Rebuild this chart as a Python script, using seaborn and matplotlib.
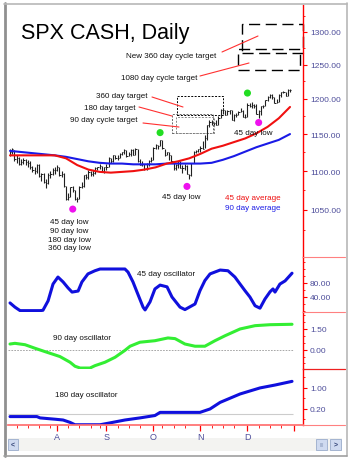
import matplotlib
matplotlib.use('Agg')
import numpy as np
import pandas as pd
import matplotlib.pyplot as plt
import seaborn as sns
from matplotlib.patches import Rectangle
from matplotlib.ticker import FixedLocator, NullFormatter

# --- data --------------------------------------------------------------
# bar index of month starts (Aug .. Jan)
month_idx = [21, 43, 64, 85, 106, 127]
month_lab = ['A', 'S', 'O', 'N', 'D', '']

high = [1129, 1131, 1128, 1121, 1119, 1116, 1117, 1116, 1115, 1114, 1107, 1106, 1110, 1110, 1098, 1097, 1090, 1097, 1100, 1104, 1106,
        1108, 1106, 1100, 1098, 1080, 1071, 1079, 1080, 1075, 1067, 1080, 1086, 1095, 1096, 1101, 1100, 1101, 1106, 1106, 1109, 1107, 1105,
        1109, 1119, 1118, 1122, 1121, 1121, 1124, 1126, 1129, 1128, 1126, 1129, 1129, 1131, 1129, 1116, 1114, 1110, 1111, 1115, 1119,
        1132, 1136, 1135, 1142, 1142, 1130, 1126, 1125, 1122, 1114, 1109, 1114, 1114, 1108, 1109, 1108, 1096, 1111, 1127, 1128, 1130,
        1134, 1140, 1149, 1162, 1170, 1169, 1166, 1169, 1175, 1185, 1187, 1184, 1183, 1184, 1184, 1178, 1179, 1182, 1186, 1183, 1178,
        1193, 1194, 1195, 1192, 1192, 1183, 1190, 1191, 1198, 1204, 1206, 1206, 1203, 1199, 1206, 1210, 1211, 1210, 1214, 1214]
low = [1120, 1123, 1114, 1111, 1108, 1108, 1110, 1108, 1106, 1103, 1099, 1096, 1098, 1092, 1087, 1084, 1078, 1083, 1091, 1095, 1096,
       1100, 1094, 1092, 1079, 1062, 1062, 1066, 1073, 1063, 1060, 1064, 1078, 1079, 1089, 1089, 1094, 1093, 1096, 1102, 1103, 1099, 1097,
       1102, 1105, 1111, 1112, 1116, 1115, 1117, 1122, 1123, 1119, 1120, 1120, 1121, 1122, 1112, 1108, 1107, 1101, 1101, 1107, 1112,
       1115, 1130, 1130, 1133, 1130, 1120, 1121, 1115, 1112, 1102, 1102, 1104, 1104, 1098, 1101, 1096, 1090, 1094, 1111, 1124, 1125,
       1126, 1130, 1131, 1142, 1160, 1162, 1162, 1162, 1162, 1172, 1178, 1176, 1176, 1178, 1170, 1168, 1174, 1177, 1181, 1174, 1173,
       1174, 1188, 1186, 1187, 1178, 1173, 1176, 1186, 1189, 1196, 1201, 1199, 1194, 1193, 1195, 1203, 1208, 1204, 1204, 1209]
close = [1125, 1129, 1116, 1118, 1110, 1112, 1115, 1112, 1111, 1106, 1101, 1100, 1108, 1093, 1096, 1086, 1084, 1095, 1096, 1101, 1102,
         1106, 1095, 1096, 1080, 1064, 1066, 1079, 1075, 1064, 1064, 1079, 1081, 1095, 1092, 1099, 1096, 1097, 1104, 1105, 1107, 1100, 1105,
         1106, 1118, 1113, 1121, 1117, 1118, 1123, 1125, 1128, 1120, 1123, 1128, 1122, 1129, 1113, 1108, 1110, 1103, 1110, 1114, 1115,
         1131, 1135, 1134, 1142, 1131, 1122, 1125, 1121, 1114, 1104, 1108, 1114, 1104, 1104, 1107, 1096, 1095, 1111, 1126, 1127, 1130,
         1131, 1130, 1144, 1162, 1167, 1166, 1165, 1162, 1173, 1184, 1184, 1176, 1182, 1183, 1170, 1177, 1177, 1181, 1182, 1174, 1174,
         1191, 1190, 1191, 1190, 1178, 1182, 1189, 1189, 1198, 1203, 1205, 1203, 1194, 1195, 1205, 1209, 1210, 1204, 1213, 1213]

ma_idx = [0, 10, 20, 25, 30, 35, 40, 45, 50, 55, 60, 65, 70, 75, 80, 85, 90, 95, 100, 105, 110, 115, 120, 125]
ma45 = [1121, 1121, 1121, 1117, 1108, 1102, 1099, 1098, 1099, 1100, 1102, 1105, 1110, 1113, 1117, 1123,
        1130, 1134, 1139, 1144, 1151, 1160, 1172, 1188]
ma90 = [1127, 1124, 1121, 1119, 1116, 1113, 1111, 1110, 1110, 1109, 1109, 1109, 1110, 1110, 1110, 1110,
        1111, 1115, 1120, 1126, 1132, 1137, 1142, 1150]

osc45_idx = [0, 2.2, 4.5, 13.4, 14.7, 17, 19.2, 21.4, 23.7, 25.9, 27.7, 30.4, 32.1, 34.8, 37.9, 40.2, 51.3, 52.7,
             54.9, 56.7, 59.4, 60.3, 62.5, 64.7, 67, 70.1, 72.3, 75.9, 78.1, 82.6, 84.8, 87, 89.3, 93.8, 97.3,
             100.4, 102.7, 104.9, 107.1, 109.4, 111.6, 113.8, 116.1, 117.4, 118.3, 120.5, 122.8, 125.9]
osc45 = [23, 11, 1, 1, 2, 29, 77, 97, 83, 66, 54, 57, 83, 106, 115, 120, 120, 111,
         83, 54, 11, 3, 26, 63, 74, 69, 40, 11, 4, 20, 58, 87, 106, 117, 115,
         97, 77, 58, 40, 15, 8, 34, 55, 63, 54, 77, 86, 108]

osc90_idx = [0, 2.2, 6.7, 11.2, 15.6, 20.1, 22.3, 26.8, 29, 31.3, 35.7, 37.9, 42.4, 46.9, 51.3, 53.6, 58,
             64.7, 70.5, 73.7, 78.1, 82.6, 87, 91.5, 96, 102.7, 109.4, 116.1, 125.9]
osc90 = [0.41, 0.46, 0.36, 0.10, -0.14, -0.38, -0.5, -0.91, -1.2, -1.33, -1.33, -1.16, -0.91, -0.55, -0.05, 0.25, 0.54,
         0.65, 0.85, 0.8, 0.41, 0.25, 0.25, 0.65, 1.01, 1.5, 1.74, 1.81, 1.84]

osc180_idx = [0, 12, 13.4, 20.1, 23.7, 26.8, 29, 40.2, 44.6, 51.3, 58, 64.7, 67, 84.8, 89.3, 93.8, 102.7, 111.6, 118.3, 125.9]
osc180 = [-0.09, -0.09, -0.14, -0.19, -0.22, -0.31, -0.40, -0.40, -0.33, -0.22, -0.14, -0.05, 0.07, 0.07, 0.2, 0.45,
          0.77, 1.0, 1.11, 1.25]

peak_idx = [67, 106]
peak_px = [1152, 1208]
trough_idx = [28, 79, 111]
trough_px = [1051, 1080, 1166]

# price target boxes: (start idx, end idx, low, high)
targets_big = [(103.6, 130.8, 1268, 1312), (101.8, 129.5, 1242, 1274)]
targets_small = [(74.6, 95.1, 1177, 1204), (72.3, 90.6, 1152, 1178), (74.0, 91.0, 1152, 1174)]

# -----------------------------------------------------------------------
sns.set_theme(style='white')
plt.rcParams['font.family'] = ['Liberation Sans', 'DejaVu Sans']

W, H = 352, 464
fig = plt.figure(figsize=(W / 100, H / 100), dpi=100)
fig.patch.set_facecolor('white')

bg = fig.add_axes([0, 0, 1, 1], zorder=0)
bg.set_xlim(0, W); bg.set_ylim(H, 0); bg.axis('off')
fg = fig.add_axes([0, 0, 1, 1], zorder=10)
fg.set_xlim(0, W); fg.set_ylim(H, 0); fg.axis('off')
fg.patch.set_alpha(0)

X0, X1 = 8, 303
XLIM = (-0.9, 130.8)
TICKC = '#4d4d9a'


def panel(top, bottom):
    ax = fig.add_axes([X0 / W, (H - bottom) / H, (X1 - X0) / W, (bottom - top) / H], zorder=5)
    ax.patch.set_visible(False)
    for s in ['top', 'left', 'bottom']:
        ax.spines[s].set_visible(False)
    ax.spines['right'].set_color('red')
    ax.spines['right'].set_linewidth(1)
    ax.set_xlim(*XLIM)
    ax.yaxis.tick_right()
    ax.tick_params(axis='y', which='both', color='red', labelcolor=TICKC, labelsize=6,
                   direction='out', pad=2, right=True, left=False)
    ax.tick_params(axis='y', which='major', length=3, width=0.8)
    ax.tick_params(axis='y', which='minor', length=1.5, width=0.6)
    ax.tick_params(axis='x', which='both', bottom=False, labelbottom=False)
    ax.set_xlabel(''); ax.set_ylabel('')
    ax.grid(False)
    return ax


# price panel
ax = panel(6, 258)
ax.set_yscale('log')
ax.set_ylim(992.3, 1342.6)
ax.vlines(range(len(high)), low, high, color='#202020', lw=0.8)
ax.hlines(close, np.arange(len(close)), np.arange(len(close)) + 0.55, color='#202020', lw=0.7)
ma = pd.DataFrame({'i': ma_idx, 'ma45': ma45, 'ma90': ma90})
sns.lineplot(data=ma, x='i', y='ma90', color='#1a1ae6', lw=1.5, ax=ax)
sns.lineplot(data=ma, x='i', y='ma45', color='#f01010', lw=1.5, ax=ax)
sns.scatterplot(x=peak_idx, y=peak_px, color='#22dd22', s=26, edgecolor='none', ax=ax)
sns.scatterplot(x=trough_idx, y=trough_px, color='#ee11ee', s=26, edgecolor='none', ax=ax)
for (a, b, lo, hi), ls in zip(targets_big, [(0, (8, 4)), (0, (8, 4))]):
    ax.add_patch(Rectangle((a, lo), b - a, hi - lo, fill=False, ec='black', lw=1.0, ls=ls, clip_on=False))
for (a, b, lo, hi), c in zip(targets_small, ['black', '#666666', '#888888']):
    ax.add_patch(Rectangle((a, lo), b - a, hi - lo, fill=False, ec=c, lw=0.7, ls=(0, (2, 1.5))))
pt = [1050, 1100, 1150, 1200, 1250, 1300]
ax.yaxis.set_major_locator(FixedLocator(pt))
ax.yaxis.set_minor_locator(FixedLocator([1025, 1075, 1125, 1175, 1225, 1275, 1325]))
ax.yaxis.set_minor_formatter(NullFormatter())
ax.set_yticklabels([f'{v:.2f}' for v in pt])
ax.set_xlabel(''); ax.set_ylabel('')

# 45 day oscillator
a1 = panel(258, 313)
sns.lineplot(x=osc45_idx, y=osc45, color='#1010dd', lw=2.2, ax=a1)
a1.set_ylim(-2.9, 154.3)
a1.yaxis.set_major_locator(FixedLocator([40, 80]))
a1.yaxis.set_minor_locator(FixedLocator([0, 20, 60, 100, 120, 140]))
a1.yaxis.set_minor_formatter(NullFormatter())
a1.set_yticklabels(['40.00', '80.00'])

# 90 day oscillator
a2 = panel(313, 370)
a2.hlines(0, XLIM[0], 126.3, color='#999999', lw=0.6, ls=(0, (2, 1.5)))
sns.lineplot(x=osc90_idx, y=osc90, color='#33ee33', lw=2.2, ax=a2)
a2.set_ylim(-1.40, 2.73)
a2.yaxis.set_major_locator(FixedLocator([0, 1.5]))
a2.yaxis.set_minor_locator(FixedLocator([-1.0, -0.5, 0.5, 1.0, 2.0, 2.5]))
a2.yaxis.set_minor_formatter(NullFormatter())
a2.set_yticklabels(['0.00', '1.50'])

# 180 day oscillator
a3 = panel(370, 426)
a3.hlines(0.01, XLIM[0], 126.3, color='#cccccc', lw=0.8)
sns.lineplot(x=osc180_idx, y=osc180, color='#1010dd', lw=2.2, ax=a3)
a3.set_ylim(-0.41, 1.72)
a3.yaxis.set_major_locator(FixedLocator([0.2, 1.0]))
a3.yaxis.set_minor_locator(FixedLocator([-0.2, 0.6, 1.4]))
a3.yaxis.set_minor_formatter(NullFormatter())
a3.set_yticklabels(['0.20', '1.00'])
a3.spines['bottom'].set_visible(True)
a3.spines['bottom'].set_color('#ff7070')
a3.tick_params(axis='x', which='both', bottom=True, labelbottom=True, color='red',
               labelcolor=TICKC, labelsize=6.5, direction='out', pad=1)
a3.tick_params(axis='x', which='major', length=4, width=0.9)
a3.tick_params(axis='x', which='minor', length=2, width=0.6)
a3.xaxis.set_major_locator(FixedLocator(month_idx))
a3.xaxis.set_minor_locator(FixedLocator([3, 8, 13, 18, 26, 31, 36, 40, 48, 53, 58, 68, 73, 78, 90, 95, 100, 111, 116, 121]))
a3.xaxis.set_minor_formatter(NullFormatter())
a3.set_xticklabels(month_lab)
for a in (a1, a2, a3):
    a.set_xlim(*XLIM)
    a.set_xlabel(''); a.set_ylabel('')

# window chrome
bg.add_patch(Rectangle((8, 439), 334, 13, fc='#f3f3f1', ec='none'))
bg.add_patch(Rectangle((8, 440), 10, 11, fc='#cfdaf0', ec='#9aaccc', lw=0.6))
bg.add_patch(Rectangle((316, 440), 11, 11, fc='#cfdaf0', ec='#9aaccc', lw=0.6))
bg.add_patch(Rectangle((330, 440), 11, 11, fc='#cfdaf0', ec='#9aaccc', lw=0.6))
fg.text(13, 446, '<', fontsize=5, color='#334477', ha='center', va='center', weight='bold')
fg.text(335.5, 446, '>', fontsize=5, color='#334477', ha='center', va='center', weight='bold')
fg.text(321.5, 446, 'III', fontsize=4, color='#8899bb', ha='center', va='center')
fg.plot([5, 5], [4, 457], color='#909090', lw=2)
fg.plot([4, 347], [4.5, 4.5], color='#b8b8b8', lw=1.2)
fg.plot([346.5, 346.5], [4, 457], color='#b8b8b8', lw=1.2)
fg.plot([4, 347], [456.5, 456.5], color='#a0a0a0', lw=1.2)
fg.plot([303, 345], [258, 258], color='#ff8080', lw=0.8)
fg.plot([303, 345], [313, 313], color='#ff8080', lw=0.8)
fg.plot([303, 345], [370, 370], color='#ee2020', lw=0.9)
fg.plot([303, 345], [426, 426], color='#ff8080', lw=0.8)

# annotations
fg.text(21, 34, 'SPX CASH, Daily', fontsize=15.5, color='black', va='center', ha='left')
small = dict(fontsize=5.8, color='#111111', va='center')
fg.text(216, 57, 'New 360 day cycle target', ha='right', **small)
fg.text(197, 78, '1080 day cycle target', ha='right', **small)
fg.text(148, 96, '360 day target', ha='right', **small)
fg.text(135, 108, '180 day target', ha='right', **small)
fg.text(138, 120, '90 day cycle target', ha='right', **small)
fg.text(253, 134, '45 day low', ha='center', **small)
fg.text(181, 198, '45 day low', ha='center', **small)
fg.text(69, 235.7, '45 day low\n90 day low\n180 day low\n360 day low', ha='center',
        linespacing=1.35, **small)
fg.text(225, 199, '45 day average', ha='left', fontsize=5.8, color='#ee1111', va='center')
fg.text(225, 209, '90 day average', ha='left', fontsize=5.8, color='#1a1ae6', va='center')
fg.text(137, 275, '45 day oscillator', ha='left', **small)
fg.text(53, 338.5, '90 day oscillator', ha='left', **small)
fg.text(55, 396, '180 day oscillator', ha='left', **small)
for (x0, y0, x1, y1) in [(222, 53, 258, 37), (200, 77, 249, 64), (152, 98, 183, 108),
                         (139, 108, 172, 117), (143, 124, 179, 128)]:
    fg.plot([x0, x1], [y0, y1], color='#ff3030', lw=0.8)

fig.savefig('out.png', dpi=100)
